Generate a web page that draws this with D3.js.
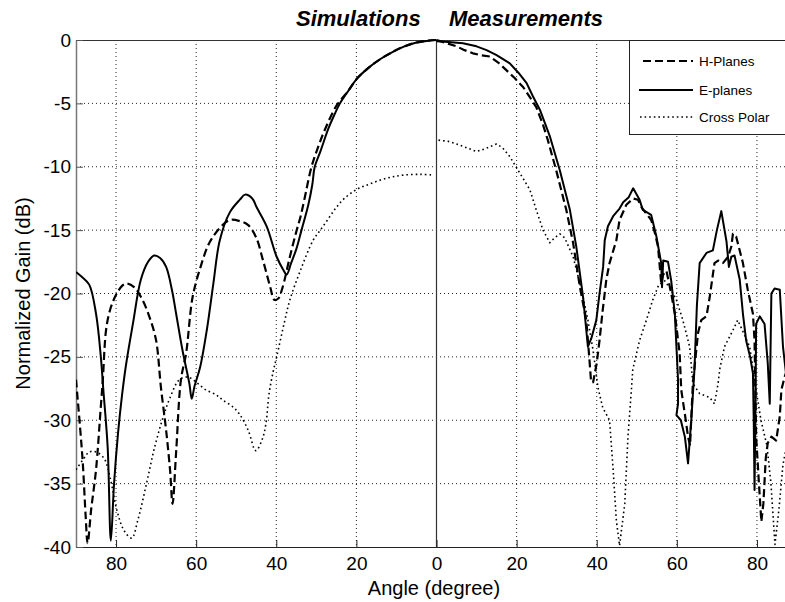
<!DOCTYPE html>
<html><head><meta charset="utf-8">
<script src="https://cdn.jsdelivr.net/npm/d3@7"></script>
<style>body{margin:0;background:#fff}svg{display:block}</style>
</head><body>
<svg id="chart" width="785" height="602"></svg>
<script>
// ---- data (angle in degrees, gain in dB) ----
const xTicks = [-80,-60,-40,-20,0,20,40,60,80];
const yTicks = [0,-5,-10,-15,-20,-25,-30,-35,-40];
const seriesNames = ["H-Planes","E-planes","Cross Polar"];
const titles = ["Simulations","Measurements"];

const eSim = [[-90,-18.3],[-88.5,-18.7],[-86.7,-19.3],[-85,-21.6],[-83.8,-25],[-83.2,-27.5],[-82.1,-32.1],[-81.3,-39.5],[-80.5,-35],[-79.5,-31],[-78.5,-28],[-77.5,-25.6],[-75.8,-22.4],[-73.8,-18.9],[-72,-17.5],[-70.5,-17.0],[-69,-17.2],[-67.5,-17.9],[-66,-19.8],[-65,-21.6],[-63.4,-24.5],[-61.7,-27.1],[-61.1,-28.3],[-60.4,-27.3],[-59,-25.8],[-57.3,-22.8],[-55.7,-19.2],[-54.1,-15.8],[-51.6,-13.6],[-49.1,-12.6],[-47.8,-12.2],[-46,-12.5],[-44.9,-13.2],[-42.4,-14.7],[-39.9,-17.1],[-38.3,-18.1],[-37.4,-18.5],[-36.3,-17.6],[-35,-16.5],[-33.7,-15],[-32,-13],[-31,-11.4],[-30.4,-10],[-29,-8.8],[-27,-7.0],[-25.5,-5.9],[-24.1,-5.0],[-22,-4.0],[-20,-3.1],[-17,-2.2],[-14,-1.5],[-11,-0.95],[-8,-0.5],[-5,-0.2],[-2,-0.05],[0,0]];
const hSim = [[-90,-26.8],[-89,-30.5],[-88.3,-33.4],[-87.6,-37.5],[-87.1,-39.7],[-86.2,-37],[-85,-33.9],[-83.8,-28.9],[-83.3,-26.8],[-82.5,-22.9],[-81.5,-21.3],[-80,-20.1],[-78.5,-19.4],[-77.5,-19.2],[-75.5,-19.5],[-73.4,-20.5],[-71.5,-22],[-70,-23.7],[-68.8,-27.4],[-67.5,-30.8],[-66.5,-34],[-65.9,-36.6],[-65,-32.5],[-63.8,-26.8],[-62.5,-24.7],[-60.9,-20.3],[-59,-18],[-56.7,-16],[-54,-14.8],[-51.6,-14.2],[-49,-14.3],[-47,-14.6],[-45,-15.6],[-43.3,-17.4],[-41.5,-19.5],[-40.5,-20.5],[-39.5,-20.4],[-38.5,-19.6],[-36.6,-17.1],[-34.9,-15],[-34,-14.0],[-33,-12.6],[-31.2,-10],[-29.5,-8.4],[-27.9,-7.1],[-25,-5.2],[-22,-4.0],[-20,-3.1],[-17,-2.2],[-14,-1.5],[-11,-0.95],[-8,-0.5],[-5,-0.2],[-2,-0.05],[0,0]];
const xSim = [[-90,-33.9],[-88,-33],[-86.7,-32.5],[-85,-32.5],[-83,-33],[-81.5,-34.5],[-79.8,-37.1],[-78,-38.7],[-76.1,-39.3],[-74.5,-37.8],[-72.4,-35],[-70.5,-32.3],[-68.2,-29.7],[-66.5,-28.2],[-64.2,-26.8],[-62,-26.6],[-60,-27],[-57.6,-27.6],[-55,-28],[-53.4,-28.4],[-51,-28.9],[-49.2,-29.5],[-47,-30.8],[-45.1,-32.4],[-43.5,-31.5],[-42.6,-30.3],[-41.8,-27.9],[-40.8,-26.2],[-39.9,-25],[-38,-22.3],[-36.6,-20.5],[-34,-18.2],[-30.8,-15.8],[-29,-15],[-27,-14.1],[-25,-13.2],[-23,-12.5],[-20,-11.8],[-17,-11.4],[-14,-11.05],[-11,-10.8],[-8,-10.65],[-4,-10.6],[-1,-10.65]];

const eMeas = [[0,-0.1],[3,-0.15],[6.6,-0.26],[10,-0.5],[12.5,-0.8],[15,-1.2],[18.3,-1.84],[20.5,-2.6],[22.5,-3.4],[24,-4.4],[25.8,-5.5],[27,-6.5],[28.3,-7.6],[30.8,-10.3],[33.3,-13.4],[34.9,-16.3],[36.6,-20.3],[37.8,-24.2],[38.7,-23.5],[39.9,-22.1],[40.7,-20],[41.6,-17.9],[42,-15.8],[42.8,-14.7],[44.1,-13.9],[45.7,-13.3],[46.6,-12.8],[48,-12.4],[49.1,-11.7],[50.7,-12.6],[51.5,-13.4],[53.6,-13.8],[54.9,-15.5],[56.1,-17.6],[56.3,-19.5],[56.6,-17.4],[57.8,-17.5],[58.6,-19],[59.5,-21.6],[59.9,-24.2],[60.3,-26.8],[60.3,-28.7],[59.9,-29.6],[61,-30],[62,-31.3],[62.8,-33.4],[63.6,-30],[64.4,-26],[65,-21],[65.7,-17.6],[67.4,-16.8],[69,-16.6],[70,-15],[71.1,-13.5],[72.4,-15.9],[73,-17.9],[73.6,-17.1],[74.4,-17.0],[75.7,-18.9],[76.5,-21.6],[77.3,-23.7],[78.3,-25],[79,-26.3],[79.2,-30],[79.4,-35.5],[79.6,-30],[79.8,-22.4],[80.7,-21.8],[81.9,-22.4],[82.7,-25.5],[83.2,-28.7],[83.6,-20],[84.4,-19.6],[85.7,-19.7],[86.5,-24.2],[87.5,-27]];
const hMeas = [[0,0],[2,-0.2],[5,-0.5],[7,-0.8],[9.1,-1.05],[11,-1.2],[13.3,-1.3],[15.5,-1.8],[17.5,-2.4],[19.5,-3],[21.6,-3.7],[23.3,-4.5],[24.9,-5.3],[26.5,-6.6],[27.8,-7.9],[29.9,-10.3],[32.4,-13.4],[34.1,-16.0],[35.8,-19.5],[37.4,-22.1],[38.2,-25.3],[38.6,-27],[39.1,-27],[40,-25.5],[40.7,-23.7],[41.5,-21.3],[42.4,-18.9],[43.2,-17.6],[44.9,-15.8],[45.7,-14.2],[47.4,-13.0],[49.1,-12.5],[50.3,-12.6],[51.2,-13.2],[52.4,-13.7],[53.6,-14.2],[54.5,-15.2],[55.3,-16.3],[56.1,-19.2],[56.6,-18.5],[57.4,-18.2],[58.6,-20],[59.5,-21.6],[60.7,-24.7],[61.1,-27.6],[62,-29.5],[62.8,-31.3],[63.3,-32],[64,-27.1],[65.3,-23.1],[66.1,-22.1],[67.4,-21.8],[68.2,-20.3],[69.4,-17.6],[70.3,-17.4],[71.5,-17.6],[72.8,-17.1],[73.6,-16.3],[74,-15.3],[74.8,-15.5],[76.5,-17.6],[77.7,-19.7],[79,-21.6],[79.4,-23.7],[79.8,-31.3],[80.5,-35],[81.1,-38],[81.6,-36.6],[82.2,-33],[82.7,-31.8],[83.6,-31.3],[84.8,-31.6],[85.7,-29.7],[86.1,-27.6],[86.9,-26.6],[88,-25.5]];
const xMeas = [[0.5,-7.9],[3,-8.0],[5,-8.2],[7.5,-8.5],[10,-8.8],[12,-8.6],[15,-8.2],[16.5,-8.5],[18.3,-9.2],[20.8,-10.5],[23.3,-11.8],[24.9,-13.4],[26.6,-15.0],[28.3,-16.0],[29.5,-15.6],[30.8,-15.3],[32,-15.6],[34.1,-17.1],[36.2,-19.7],[37.8,-22.1],[39.1,-24.5],[40.3,-27.4],[41.5,-29],[43.2,-30],[44.1,-33.9],[44.9,-37.9],[45.7,-39.9],[47,-36.6],[47.8,-31.3],[48.7,-27.4],[49,-26],[50.7,-23.7],[52.4,-22.1],[54,-20.5],[55.5,-19.3],[57,-19],[58.5,-19.7],[59.9,-20.5],[61.5,-22.1],[63.2,-24.2],[64,-27.1],[65.7,-27.9],[68.2,-28.2],[69.4,-28.7],[70.3,-27.1],[70.7,-26],[71.9,-24.2],[74,-22.9],[75.2,-22.1],[76.5,-23],[78.2,-24.2],[79.5,-27],[81,-30],[82.5,-32],[83.5,-35],[84.5,-39.8],[85.5,-37],[86.5,-33.5],[88,-31]];

// ---- drawing ----
const svg = d3.select("#chart");
const L = 76, R = 797, T = 40, B = 547;
const x = d3.scaleLinear().domain([-90, 90]).range([L, R]);
const y = d3.scaleLinear().domain([-40, 0]).range([B, T]);
const FONT = "Arial, 'Liberation Sans', Helvetica, sans-serif";

svg.append("rect").attr("width", 785).attr("height", 602).attr("fill", "#fff");
svg.append("defs").append("clipPath").attr("id", "clip")
  .append("rect").attr("x", L).attr("y", T - 2).attr("width", R - L).attr("height", B - T + 4);

// grid
const grid = svg.append("g");
grid.selectAll("line.gx").data(xTicks.filter(d => d !== 0)).join("line")
  .attr("x1", d => x(d)).attr("x2", d => x(d)).attr("y1", T).attr("y2", B)
  .attr("stroke", "#222").attr("stroke-width", 1).attr("stroke-dasharray", "1,3");
grid.selectAll("line.gy").data(yTicks.filter(d => d !== -40 && d !== 0)).join("line")
  .attr("x1", L).attr("x2", R).attr("y1", d => y(d)).attr("y2", d => y(d))
  .attr("stroke", "#222").attr("stroke-width", 1).attr("stroke-dasharray", "1,3");
// center vertical line
svg.append("line").attr("x1", x(0)).attr("x2", x(0)).attr("y1", T).attr("y2", B)
  .attr("stroke", "#333").attr("stroke-width", 1.2);
// top border
svg.append("line").attr("x1", L).attr("x2", R).attr("y1", T + 0.5).attr("y2", T + 0.5)
  .attr("stroke", "#333").attr("stroke-width", 1);

// axes
const xAxis = svg.append("g").attr("transform", `translate(0,${B})`)
  .call(d3.axisBottom(x).tickValues(xTicks).tickFormat(d => Math.abs(d)).tickSizeInner(-7).tickSizeOuter(0).tickPadding(10));
xAxis.select(".domain").attr("stroke", "#222").attr("stroke-width", 1.2);
xAxis.selectAll(".tick line").attr("stroke", "#222");
xAxis.selectAll("text").attr("font-family", FONT).attr("font-size", 19).attr("fill", "#000");

const yAxis = svg.append("g").attr("transform", `translate(${L},0)`)
  .call(d3.axisLeft(y).tickValues(yTicks).tickFormat(d => d).tickSizeInner(-7).tickSizeOuter(0).tickPadding(5));
yAxis.select(".domain").attr("stroke", "#777").attr("stroke-width", 1.5);
yAxis.selectAll(".tick line").attr("stroke", "#555");
yAxis.selectAll("text").attr("font-family", FONT).attr("font-size", 19).attr("fill", "#000");

// lines
const line = d3.line().x(d => x(d[0])).y(d => y(d[1]));
const smooth = d3.line().x(d => x(d[0])).y(d => y(d[1])).curve(d3.curveCatmullRom.alpha(0.5));
const plot = svg.append("g").attr("clip-path", "url(#clip)");
const styles = {
  H: {dash: "8,4", w: 2.2},
  E: {dash: null, w: 2},
  X: {dash: "1.6,3", w: 1.6}
};
function draw(data, st, gen) {
  plot.append("path").datum(data).attr("d", gen).attr("fill", "none")
    .attr("stroke", "#000").attr("stroke-width", st.w)
    .attr("stroke-dasharray", st.dash).attr("stroke-linejoin", "round");
}
draw(xSim, styles.X, smooth);
draw(xMeas, styles.X, line);
draw(hSim, styles.H, smooth);
draw(hMeas, styles.H, line);
draw(eSim, styles.E, smooth);
draw(eMeas, styles.E, line);

// titles
svg.append("text").attr("x", 296).attr("y", 26).text(titles[0])
  .attr("font-family", FONT).attr("font-size", 22).attr("font-weight", "bold").attr("font-style", "italic");
svg.append("text").attr("x", 449).attr("y", 26).text(titles[1])
  .attr("font-family", FONT).attr("font-size", 22).attr("font-weight", "bold").attr("font-style", "italic");

// axis labels
svg.append("text").attr("x", 434).attr("y", 595).attr("text-anchor", "middle").text("Angle (degree)")
  .attr("font-family", FONT).attr("font-size", 20);
svg.append("text").attr("transform", `translate(30,${(T + B) / 2}) rotate(-90)`).attr("text-anchor", "middle")
  .text("Normalized Gain (dB)").attr("font-family", FONT).attr("font-size", 20);

// legend
const lg = svg.append("g");
lg.append("rect").attr("x", 629.5).attr("y", 40.5).attr("width", 180).attr("height", 94)
  .attr("fill", "#fff").attr("stroke", "#222").attr("stroke-width", 1);
const legendRows = [
  {name: seriesNames[0], st: styles.H, yy: 61, x1: 643},
  {name: seriesNames[1], st: styles.E, yy: 90, x1: 639},
  {name: seriesNames[2], st: styles.X, yy: 117, x1: 640}
];
legendRows.forEach(r => {
  lg.append("line").attr("x1", r.x1).attr("x2", 693).attr("y1", r.yy).attr("y2", r.yy)
    .attr("stroke", "#000").attr("stroke-width", r.st.w).attr("stroke-dasharray", r.st.dash);
  lg.append("text").attr("x", 699).attr("y", r.yy + 5).text(r.name)
    .attr("font-family", FONT).attr("font-size", 13.5);
});
</script>
</body></html>
